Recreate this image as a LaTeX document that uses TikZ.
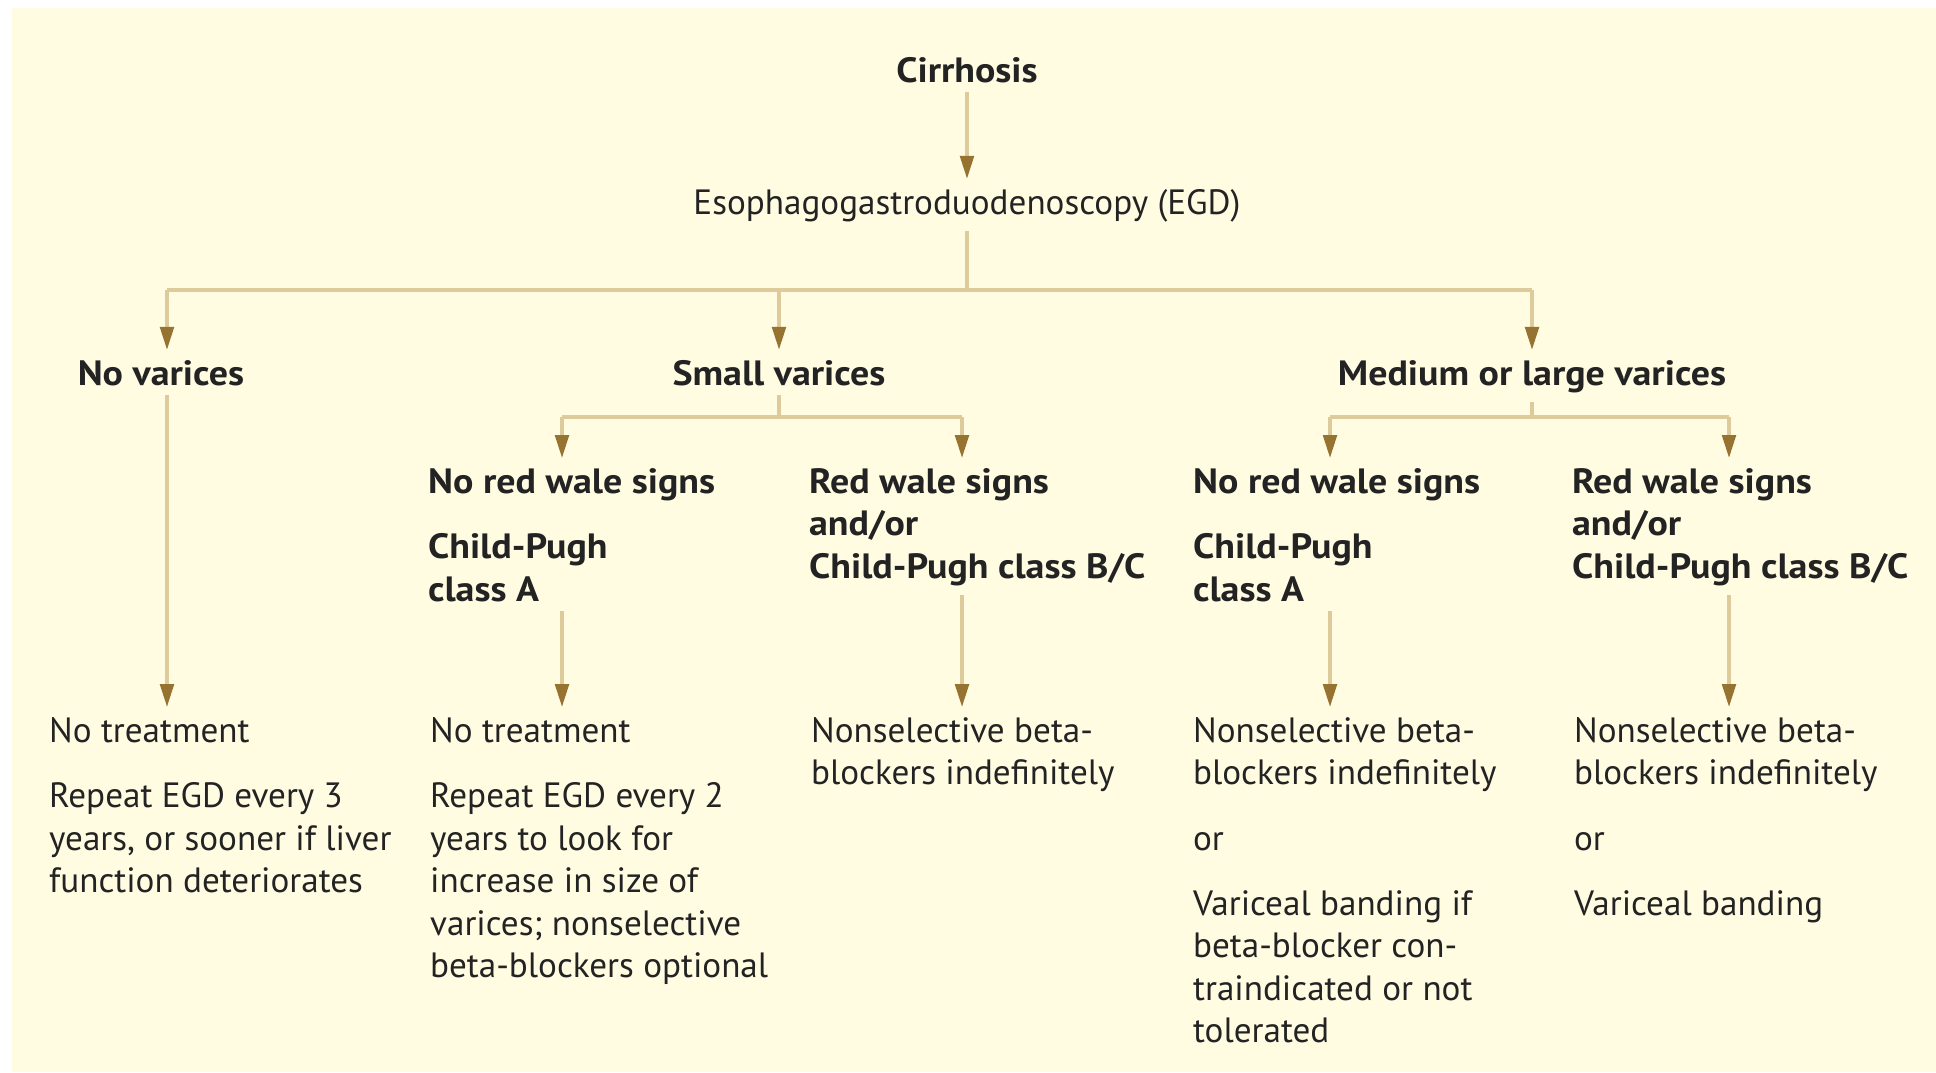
\documentclass[tikz,border=0pt]{standalone}
\usepackage{fontspec}
\setmainfont{PT Sans}[BoldFeatures={FakeStretch=1.08}]
\usepackage{tikz}
\usetikzlibrary{arrows.meta}
\definecolor{bgcream}{RGB}{255,252,226}
\definecolor{linetan}{RGB}{222,203,155}
\definecolor{tipbrown}{RGB}{150,115,48}
\definecolor{txtgray}{RGB}{35,35,35}
\tikzset{
  flowtext/.style={font=\fontsize{20}{24.2}\selectfont, text=txtgray, inner sep=5pt},
  head/.style={flowtext, font=\fontsize{20}{24.2}\selectfont\bfseries},
  branch/.style={head, align=left, anchor=north west},
  treat/.style={flowtext, align=left, anchor=north west},
  link/.style={line width=2.8pt, linetan},
  arr/.style={link, -{Triangle[length=4.8mm, width=2.6mm, color=tipbrown]}}
}

\begin{document}
\begin{tikzpicture}[x=0.02cm, y=-0.02cm]
\useasboundingbox (0,0) rectangle (1936,1072);
\fill[bgcream] (12,8) rectangle (1936,1072);

% top of the tree
\node[head, anchor=base] (cirr) at (967,82) {Cirrhosis};
\node[flowtext, anchor=base] (egd) at (967,214) {Esophagogastroduodenoscopy (EGD)};

% size of varices
\node[head, anchor=base] (none) at (161,385) {No varices};
\node[head, anchor=base] (small) at (779,385) {Small varices};
\node[head, anchor=base] (medlg) at (1532,385) {Medium or large varices};

% red wale signs / Child-Pugh
\node[branch] (snored) at (419,459) {No red wale signs\\[13pt]Child-Pugh\\class A};
\node[branch] (sred) at (800,459) {Red wale signs\\and/or\\Child-Pugh class B/C};
\node[branch] (mnored) at (1184,459) {No red wale signs\\[13pt]Child-Pugh\\class A};
\node[branch] (mred) at (1563,459) {Red wale signs\\and/or\\Child-Pugh class B/C};

% treatment
\node[treat] (tnone) at (40,708) {No treatment\\[13pt]Repeat EGD every 3\\years, or sooner if liver\\function deteriorates};
\node[treat] (tsn) at (421,708) {No treatment\\[13pt]Repeat EGD every 2\\years to look for\\increase in size of\\varices; nonselective\\beta-blockers optional};
\node[treat] (tsr) at (802,708) {Nonselective beta-\\blockers indefinitely};
\node[treat] (tmn) at (1184,708) {Nonselective beta-\\blockers indefinitely\\[13pt]or\\[13pt]Variceal banding if\\beta-blocker con-\\traindicated or not\\tolerated};
\node[treat] (tmr) at (1565,708) {Nonselective beta-\\blockers indefinitely\\[13pt]or\\[13pt]Variceal banding};

% bar corners
\coordinate (j1) at (167,290);
\coordinate (j2) at (779,290);
\coordinate (j3) at (1532,290);
\coordinate (k2) at (562,417);
\coordinate (k3) at (962,417);
\coordinate (k4) at (1330,417);
\coordinate (k5) at (1729,417);

\draw[arr] (cirr) -- (egd);
\draw[link] (egd) -- (egd |- j1);
\draw[link] (j1) -- (j3);
\draw[arr] (j1) -- (j1 |- none.north);
\draw[arr] (j2) -- (small);
\draw[arr] (j3) -- (medlg);

\draw[link] (small) -- (small |- k2);
\draw[link] (k2) -- (k3);
\draw[arr] (k2) -- (k2 |- snored.north);
\draw[arr] (k3) -- (k3 |- sred.north);
\draw[link] (medlg) -- (medlg |- k4);
\draw[link] (k4) -- (k5);
\draw[arr] (k4) -- (k4 |- mnored.north);
\draw[arr] (k5) -- (k5 |- mred.north);

\draw[arr] (j1 |- none.south) -- (j1 |- tnone.north);
\draw[arr] (k2 |- snored.south) -- (k2 |- tsn.north);
\draw[arr] (k3 |- sred.south) -- (k3 |- tsr.north);
\draw[arr] (k4 |- mnored.south) -- (k4 |- tmn.north);
\draw[arr] (k5 |- mred.south) -- (k5 |- tmr.north);
\end{tikzpicture}
\end{document}
